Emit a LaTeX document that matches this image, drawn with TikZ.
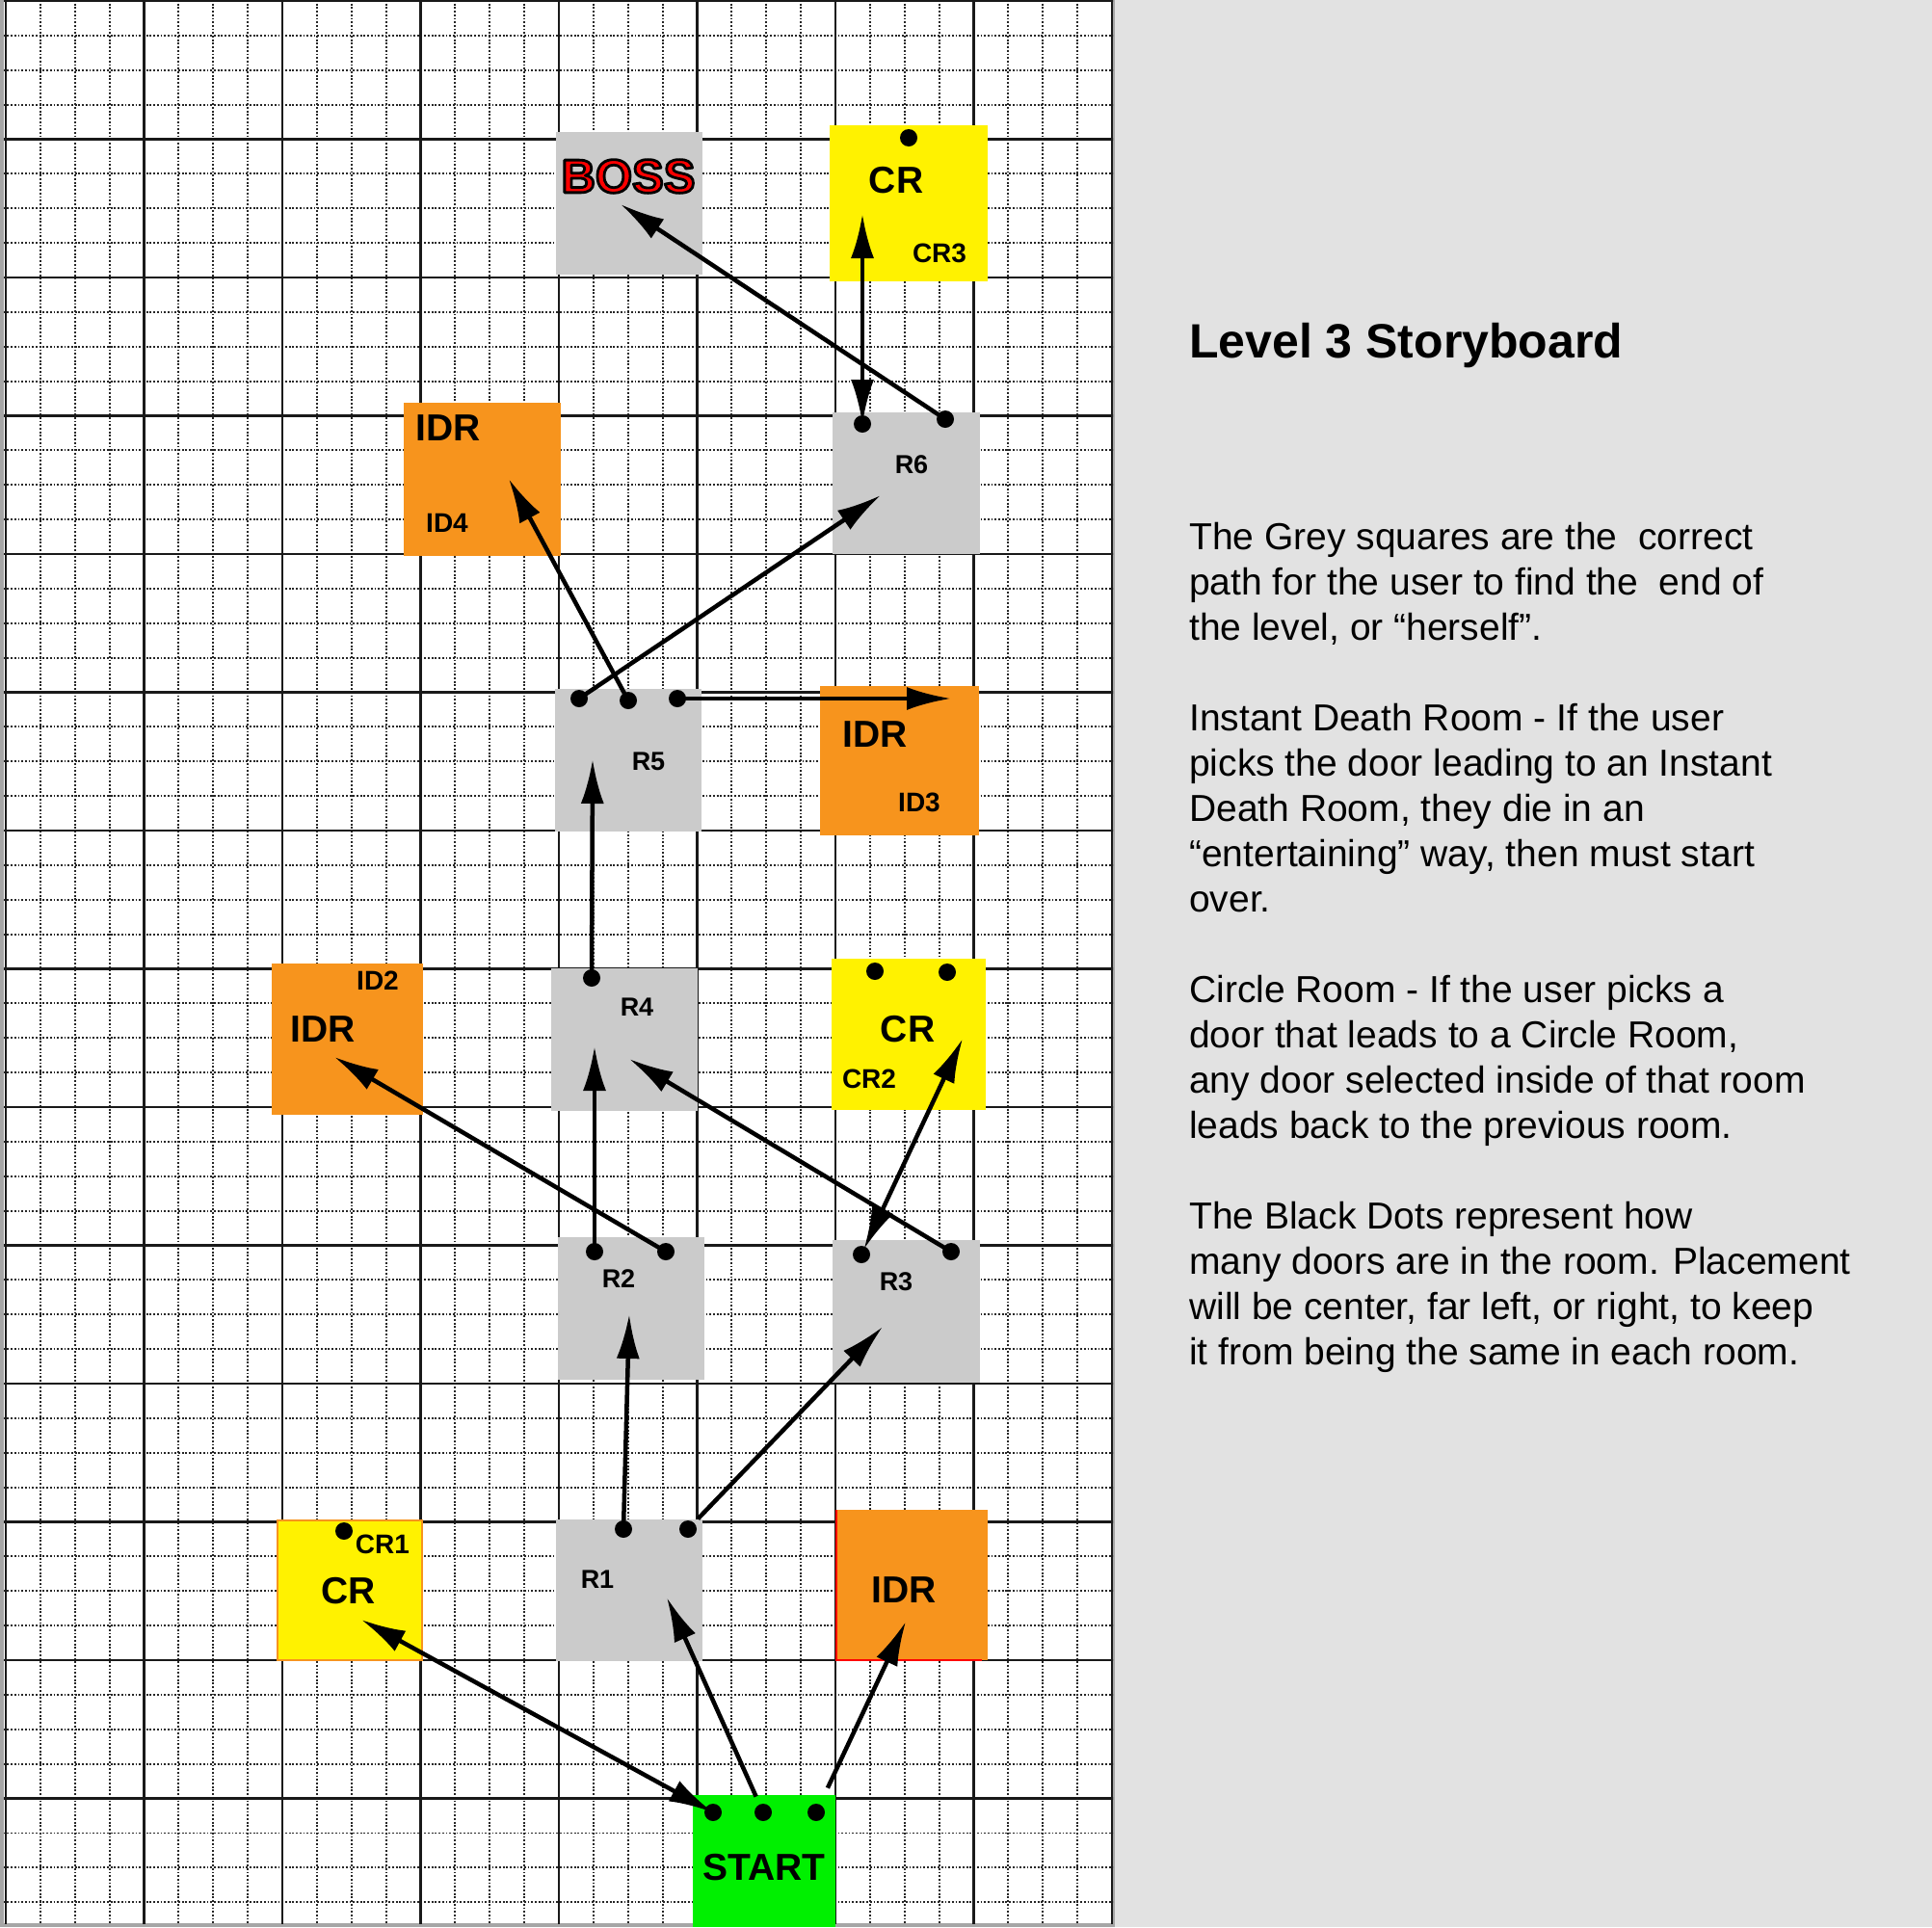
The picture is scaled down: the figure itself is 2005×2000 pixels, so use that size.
\documentclass[tikz,border=0pt]{standalone}
\usepackage{fontspec}
\setmainfont{Liberation Sans}
\usetikzlibrary{arrows.meta}

\definecolor{panelgrey}{HTML}{E2E2E2}
\definecolor{roomgrey}{HTML}{CBCBCB}
\definecolor{cryellow}{HTML}{FFF200}
\definecolor{idrorange}{HTML}{F7941D}
\definecolor{startgreen}{HTML}{00F000}
\definecolor{edgegrey}{HTML}{A6A6A6}
\definecolor{bossred}{HTML}{FF0000}

% red letters with a black rim (fill, then stroke)
\newcommand\rimtext[1]{\special{pdf:literal 2.8 w 0 0 0 RG 1 j 2 Tr}#1\special{pdf:literal 0 Tr}}

\begin{document}
\begin{tikzpicture}[x=1pt,y=-1pt,
  rmbox/.style={inner sep=0pt, outer sep=0pt, anchor=north west},
  doordot/.style={circle, fill=black, inner sep=0pt, minimum size=18pt},
  onelink/.style={line width=4.5pt, -{Latex[length=46pt,width=24pt]}},
  twolink/.style={line width=4.5pt, {Latex[length=46pt,width=24pt]}-{Latex[length=46pt,width=24pt]}},
  bigtag/.style={inner sep=0pt, font=\fontsize{39}{47}\selectfont\bfseries},
  smalltag/.style={inner sep=0pt, font=\fontsize{28}{34}\selectfont\bfseries},
  roomtag/.style={inner sep=0pt, font=\fontsize{27}{32}\selectfont\bfseries},
  bosstag/.style={inner sep=0pt, font=\fontsize{49}{56}\selectfont\bfseries},
  majorline/.style={line width=2.6pt, black!90},
  minorline/.style={line width=1.8pt, black!85, dash pattern=on 1.8pt off 1.9pt},
]
\useasboundingbox (0,0) rectangle (2005,2000);

% page: grey notes panel and white graph paper
\fill[panelgrey] (0,0) rectangle (2005,2000);
\fill[edgegrey] (0,0) rectangle (1157,2000);
\fill[white] (4,0) rectangle (1155,1996);

% graph paper grid
\begin{scope}
  \clip (4,0) rectangle (1155,1996);
  \foreach \k in {0,...,7}
    \foreach \m in {1,2,3}
      \draw[minorline] (6+143.5*\k+35.875*\m,0) -- (6+143.5*\k+35.875*\m,2000);
  \foreach \k in {0,...,13}
    \foreach \m in {1,2,3}
      \draw[minorline] (0,1+143.5*\k+35.875*\m) -- (1160,1+143.5*\k+35.875*\m);
  \foreach \k in {0,...,8}
    \draw[majorline] (6+143.5*\k,0) -- (6+143.5*\k,2000);
  \foreach \k in {0,...,13}
    \draw[majorline] (0,1+143.5*\k) -- (1160,1+143.5*\k);
\end{scope}

% rooms
\node[rmbox, fill=roomgrey, minimum width=152pt, minimum height=148pt] (boss) at (577,137) {};
\node[rmbox, fill=cryellow, minimum width=164pt, minimum height=162pt] (cr3) at (861,130) {};
\node[rmbox, fill=idrorange, minimum width=163pt, minimum height=159pt] (id4) at (419,418) {};
\node[rmbox, fill=roomgrey, minimum width=153pt, minimum height=147pt] (r6) at (864,428) {};
\node[rmbox, fill=roomgrey, minimum width=152pt, minimum height=148pt] (r5) at (576,715) {};
\node[rmbox, fill=idrorange, minimum width=165pt, minimum height=155pt] (id3) at (851,712) {};
\node[rmbox, fill=idrorange, minimum width=157pt, minimum height=157pt] (id2) at (282,1000) {};
\node[rmbox, fill=roomgrey, minimum width=152pt, minimum height=148pt] (r4) at (572,1005) {};
\node[rmbox, fill=cryellow, minimum width=160pt, minimum height=157pt] (cr2) at (863,995) {};
\node[rmbox, fill=roomgrey, minimum width=152pt, minimum height=148pt] (r2) at (579,1284) {};
\node[rmbox, fill=roomgrey, minimum width=153pt, minimum height=148pt] (r3) at (864,1287) {};
\node[rmbox, fill=cryellow, draw=idrorange, line width=2pt, minimum width=150pt, minimum height=145pt] (cr1) at (288,1578) {};
\node[rmbox, fill=roomgrey, minimum width=152pt, minimum height=147pt] (r1) at (577,1577) {};
\node[rmbox, fill=idrorange, minimum width=157pt, minimum height=156pt] (id1) at (868,1567) {};
\draw[red, line width=2pt] (id1.north west) -- (id1.south west) -- ([xshift=-6pt]id1.south east);
\node[rmbox, fill=startgreen, minimum width=148pt, minimum height=137pt] (start) at (719,1863) {};

% doors
\node[doordot] (cr3d) at (943,143) {};
\node[doordot] (r6a) at (895,440) {};
\node[doordot] (r6b) at (981,435) {};
\node[doordot] (r5a) at (601,725) {};
\node[doordot] (r5b) at (652,727) {};
\node[doordot] (r5c) at (703,725) {};
\node[doordot] (r4a) at (614,1015) {};
\node[doordot] (cr2a) at (908,1008) {};
\node[doordot] (cr2b) at (983,1009) {};
\node[doordot] (r2a) at (617,1299) {};
\node[doordot] (r2b) at (691,1299) {};
\node[doordot] (r3a) at (894,1302) {};
\node[doordot] (r3b) at (987,1299) {};
\node[doordot] (cr1d) at (357,1589) {};
\node[doordot] (r1a) at (647,1587) {};
\node[doordot] (r1b) at (714,1587) {};
\node[doordot] (sa) at (740,1881) {};
\node[doordot] (sb) at (792,1881) {};
\node[doordot] (sc) at (847,1881) {};

% where each passage arrives
\coordinate (tcr1) at (375,1681);
\coordinate (tr1) at (692,1658);
\coordinate (tid1) at (940,1683);
\coordinate (tr2) at (653,1364);
\coordinate (tr3) at (916,1377);
\coordinate (tr4a) at (617,1086);
\coordinate (tid2) at (347,1097);
\coordinate (tcr2) at (999,1078);
\coordinate (tr4b) at (653,1099);
\coordinate (tr5) at (615,788);
\coordinate (tr6) at (914,514);
\coordinate (tid4) at (528,497);
\coordinate (tid3) at (987,725);
\coordinate (tcr3) at (895,222);
\coordinate (tboss) at (644,212);

% passages
\draw[twolink] (sa.center) -- (tcr1);
\draw[onelink, shorten <=18pt] (sb.center) -- (tr1);
\draw[onelink, shorten <=28pt] (sc.center) -- (tid1);
\draw[onelink] (r1a.center) -- (tr2);
\draw[onelink, shorten <=15pt] (r1b.center) -- (tr3);
\draw[onelink] (r2a.center) -- (tr4a);
\draw[onelink] (r2b.center) -- (tid2);
\draw[twolink, shorten <=6pt] (r3a.center) -- (tcr2);
\draw[onelink] (r3b.center) -- (tr4b);
\draw[onelink] (r4a.center) -- (tr5);
\draw[onelink] (r5a.center) -- (tr6);
\draw[onelink] (r5b.center) -- (tid4);
\draw[onelink] (r5c.center) -- (tid3);
\draw[twolink] (r6a.center) -- (tcr3);
\draw[onelink] (r6b.center) -- (tboss);

% room labels
\node[bosstag, text=bossred] (bosslabel) at (652,183) {\rimtext{BOSS}};
\node[bigtag] (cr3big) at (930,187) {CR};
\node[smalltag] (cr3small) at (975,263) {CR3};
\node[bigtag] (id4big) at (465,444) {IDR};
\node[smalltag] (id4small) at (464,543) {ID4};
\node[roomtag] (r6label) at (946,482) {R6};
\node[roomtag] (r5label) at (673,790) {R5};
\node[bigtag] (id3big) at (908,762) {IDR};
\node[smalltag] (id3small) at (954,833) {ID3};
\node[smalltag] (id2small) at (392,1018) {ID2};
\node[bigtag] (id2big) at (335,1068) {IDR};
\node[roomtag] (r4label) at (661,1045) {R4};
\node[bigtag] (cr2big) at (942,1068) {CR};
\node[smalltag] (cr2small) at (902,1120) {CR2};
\node[roomtag] (r2label) at (642,1327) {R2};
\node[roomtag] (r3label) at (930,1330) {R3};
\node[smalltag] (cr1small) at (397,1603) {CR1};
\node[bigtag] (cr1big) at (362,1651) {CR};
\node[roomtag] (r1label) at (620,1639) {R1};
\node[bigtag] (id1big) at (938,1650) {IDR};
\node[bigtag] (startlabel) at (793,1938) {START};

% notes panel
\node[anchor=base west, inner sep=0pt, font=\fontsize{50}{60}\selectfont\bfseries] (title) at (1234,371) {Level 3 Storyboard};
\node[anchor=base west, inner sep=0pt, font=\fontsize{39}{47}\selectfont] (notes) at (1234,570) {%
\begin{minipage}[t]{760pt}\raggedright
The Grey squares are the\ \ correct\\
path for the user to find the\ \ end of\\
the level, or “herself”.\\[47pt]
Instant Death Room - If the user\\
picks the door leading to an Instant\\
Death Room, they die in an\\
“entertaining” way, then must start\\
over.\\[47pt]
Circle Room - If the user picks a\\
door that leads to a Circle Room,\\
any door selected inside of that room\\
leads back to the previous room.\\[47pt]
The Black Dots represent how\\
many doors are in the room. Placement\\
will be center, far left, or right, to keep\\
it from being the same in each room.
\end{minipage}};
\end{tikzpicture}
\end{document}
